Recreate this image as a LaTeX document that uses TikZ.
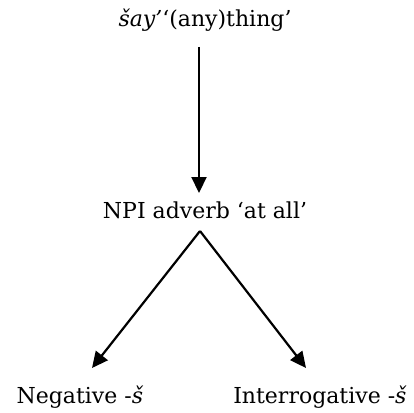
\documentclass[tikz,border=0pt]{standalone}
\usepackage{fontspec}
\setmainfont{DejaVu Serif}
\usetikzlibrary{arrows.meta}
\begin{document}
\begin{tikzpicture}[x=1pt,y=-1pt,
  lbl/.style={inner sep=0pt,anchor=base,font=\fontsize{22}{26}\selectfont},
  arr/.style={line width=2.2pt,-{Triangle[length=16pt,width=15pt]}}]
\useasboundingbox (0,0) rectangle (414,412);
\node[lbl] (top) at (205,27) {\textit{šay’}‘(any)thing’};
\node[lbl] (mid) at (205,218) {NPI adverb ‘at all’};
\node[lbl] (neg) at (80,403) {Negative -\textit{š}};
\node[lbl] (int) at (320,403) {Interrogative -\textit{š}};
\coordinate (vs) at (199,47);
\coordinate (ve) at (199,193);
\coordinate (apex) at (200,231);
\coordinate (lt) at (92,368);
\coordinate (rt) at (306,368);
\draw[arr] (vs) -- (ve);
\draw[arr] (apex) -- (lt);
\draw[arr] (apex) -- (rt);
\end{tikzpicture}
\end{document}
